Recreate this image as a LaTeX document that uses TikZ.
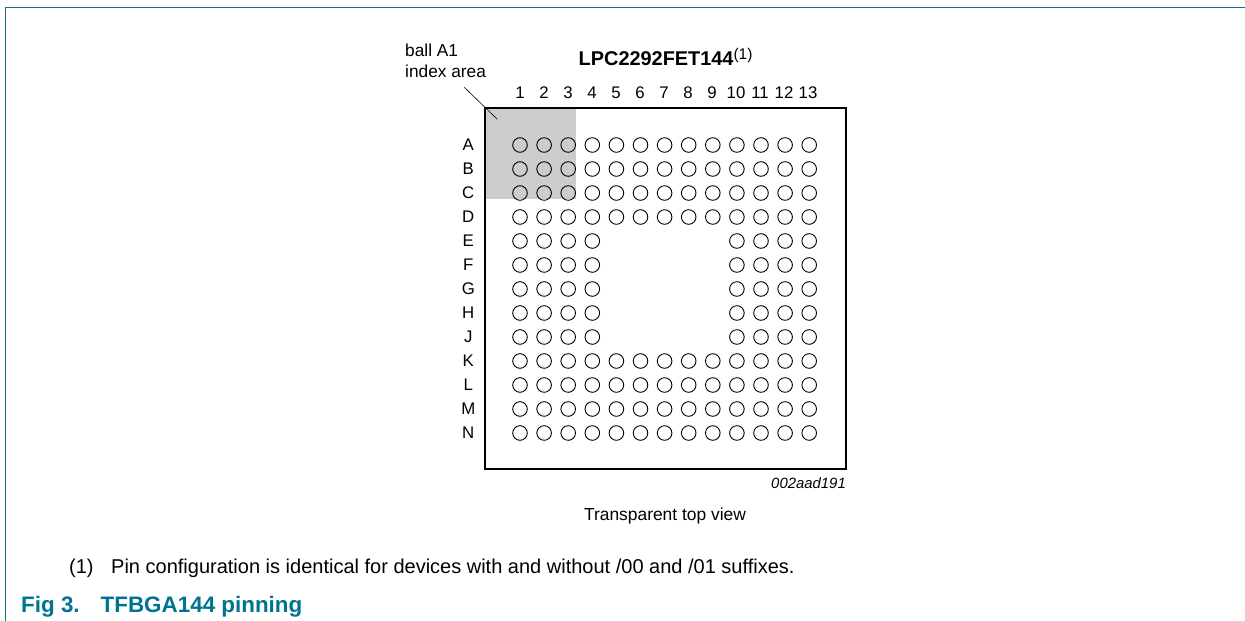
\documentclass[tikz,border=0pt]{standalone}
\usepackage{fontspec}
\setmainfont{Liberation Sans}
\definecolor{nxpteal}{RGB}{0,115,145}
\definecolor{framec}{RGB}{20,110,135}
\tikzset{
  x=1pt,y=-1pt,
  lab/.style={inner sep=0pt,font=\fontsize{16.8}{19}\selectfont,text=black},
  ball/.style={circle,draw=black,line width=0.9pt,minimum size=14.6pt,inner sep=0pt,fill=none},
}
\begin{document}
\begin{tikzpicture}
\useasboundingbox (0,0) rectangle (1245,621);
\fill[white] (0,0) rectangle (1245,621);
\draw[framec,line width=1pt] (5.5,621) -- (5.5,7.5) -- (1245,7.5);
\fill[black!20] (485,108) rectangle (576,199);
\node[draw=black,line width=2.4pt,minimum width=360.8pt,minimum height=361pt,inner sep=0pt,outer sep=0pt,anchor=north west] (chip) at (485,108) {};
\coordinate (leadA) at (464.3,87.3);
\coordinate (leadB) at (497.3,119.3);
\draw[black,line width=0.6pt] (leadA) -- (leadB);
\foreach \c [count=\i] in {1,2,...,13}{
  \node[lab,anchor=base] at ({496+24*\i},98.3) {\c};
}
\foreach \r [count=\j] in {A,B,C,D,E,F,G,H,J,K,L,M,N}{
  \node[lab,anchor=base] at (468.3,{126+24*\j}) {\r};
  \foreach \i in {1,...,13}{
    \pgfmathtruncatemacro{\show}{(\j<5 || \j>9 || \i<5 || \i>9) ? 1 : 0}
    \ifnum\show=1
      \node[ball] (b\r\i) at ({495.9+24.1*\i},{121+24*\j}) {};
    \fi
  }
}
\node[lab,anchor=base west,font=\fontsize{19.9}{22}\selectfont] (ttl) at (578.5,65.7) {\textbf{LPC2292FET144}\raisebox{6.5pt}{\fontsize{15.5}{17}\selectfont(1)}};
\node[lab,anchor=base west,font=\fontsize{17.3}{20}\selectfont] (ball) at (405,56) {ball A1};
\node[lab,anchor=base west,font=\fontsize{17.3}{20}\selectfont] (index) at (405,77.3) {index area};
\node[lab,anchor=base east,font=\fontsize{14.9}{17}\selectfont\itshape] (code) at (846,488.3) {002aad191};
\node[lab,anchor=base,font=\fontsize{17.4}{20}\selectfont] (tv) at (665,520.7) {Transparent top view};
\node[lab,anchor=base west,font=\fontsize{20}{23}\selectfont] (n1) at (69,573.3) {(1)};
\node[lab,anchor=base west,font=\fontsize{20}{23}\selectfont] (n2) at (111,573.3) {Pin configuration is identical for devices with and without /00 and /01 suffixes.};
\node[anchor=base west,inner sep=0pt,font=\fontsize{22.4}{25}\selectfont\bfseries,text=nxpteal] (f3) at (21,612.3) {Fig 3.};
\node[anchor=base west,inner sep=0pt,font=\fontsize{22.4}{25}\selectfont\bfseries,text=nxpteal] (f3t) at (100.5,612.3) {TFBGA144 pinning};
\end{tikzpicture}
\end{document}
